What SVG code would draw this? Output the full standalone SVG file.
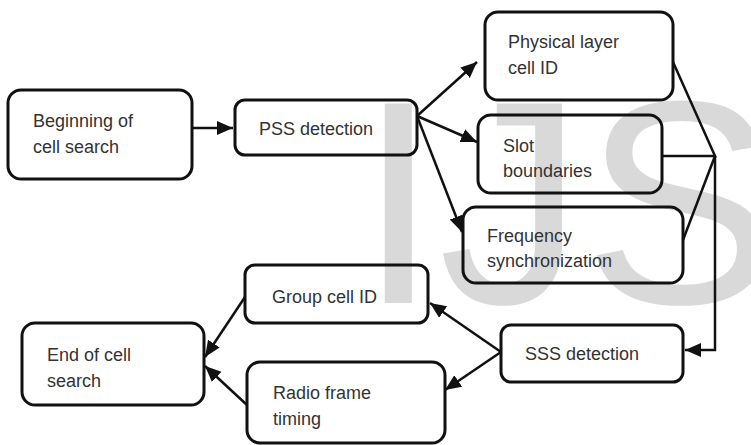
<svg xmlns="http://www.w3.org/2000/svg" width="751" height="445" viewBox="0 0 751 445">
<defs>
<style>
.box{fill:none;stroke:#111;stroke-width:3}
.lbl{font-family:"Liberation Sans",Arial,sans-serif;font-size:18px;fill:#333}
.con{fill:none;stroke:#111;stroke-width:2.5}
.wm{font-family:"Liberation Sans",Arial,sans-serif;font-size:290px;fill:#d9d9d9}
</style>
<marker id="ah" markerUnits="userSpaceOnUse" markerWidth="18" markerHeight="16" refX="16" refY="7" orient="auto">
<path d="M0,0 L16,7 L0,14 z" fill="#111"/>
</marker>
</defs>
<rect width="751" height="445" fill="#fff"/>
<text class="wm" x="358" y="303">IJS</text>
<g id="connectors">
<line class="con" x1="192" y1="128" x2="233" y2="128" marker-end="url(#ah)"/>
<line class="con" x1="417" y1="116" x2="477" y2="62" marker-end="url(#ah)"/>
<line class="con" x1="417" y1="116" x2="477" y2="142" marker-end="url(#ah)"/>
<line class="con" x1="417" y1="116" x2="462" y2="232" marker-end="url(#ah)"/>
<polyline class="con" points="673,62 715,156 662,156"/>
<line class="con" x1="683" y1="240" x2="715" y2="156"/>
<polyline class="con" points="715,156 715,350 685,350" marker-end="url(#ah)"/>
<line class="con" x1="501" y1="352" x2="430" y2="303" marker-end="url(#ah)"/>
<line class="con" x1="501" y1="352" x2="445" y2="390" marker-end="url(#ah)"/>
<line class="con" x1="245" y1="297" x2="205" y2="357" marker-end="url(#ah)"/>
<line class="con" x1="247" y1="405" x2="205" y2="366" marker-end="url(#ah)"/>
</g>
<g id="begin">
<rect class="box" x="8" y="90" width="184" height="89" rx="13"/>
<text class="lbl" x="33" y="127">Beginning of</text>
<text class="lbl" x="33" y="153">cell search</text>
</g>
<g id="pss">
<rect class="box" x="235" y="100" width="182" height="55" rx="10"/>
<text class="lbl" x="259" y="135">PSS detection</text>
</g>
<g id="physical">
<rect class="box" x="485" y="12" width="188" height="88" rx="13"/>
<text class="lbl" x="508" y="48">Physical layer</text>
<text class="lbl" x="508" y="74">cell ID</text>
</g>
<g id="slot">
<rect class="box" x="478" y="115" width="184" height="78" rx="13"/>
<text class="lbl" x="503" y="152">Slot</text>
<text class="lbl" x="503" y="177">boundaries</text>
</g>
<g id="freq">
<rect class="box" x="463" y="207" width="220" height="76" rx="13"/>
<text class="lbl" x="487" y="242">Frequency</text>
<text class="lbl" x="487" y="267">synchronization</text>
</g>
<g id="sss">
<rect class="box" x="501" y="325" width="182" height="57" rx="10"/>
<text class="lbl" x="525" y="360">SSS detection</text>
</g>
<g id="group">
<rect class="box" x="245" y="265" width="183" height="58" rx="10"/>
<text class="lbl" x="272" y="303">Group cell ID</text>
</g>
<g id="radio">
<rect class="box" x="247" y="362" width="198" height="81" rx="13"/>
<text class="lbl" x="273" y="399">Radio frame</text>
<text class="lbl" x="273" y="425">timing</text>
</g>
<g id="end">
<rect class="box" x="22" y="323" width="182" height="82" rx="13"/>
<text class="lbl" x="47" y="361">End of cell</text>
<text class="lbl" x="47" y="387">search</text>
</g>
</svg>
